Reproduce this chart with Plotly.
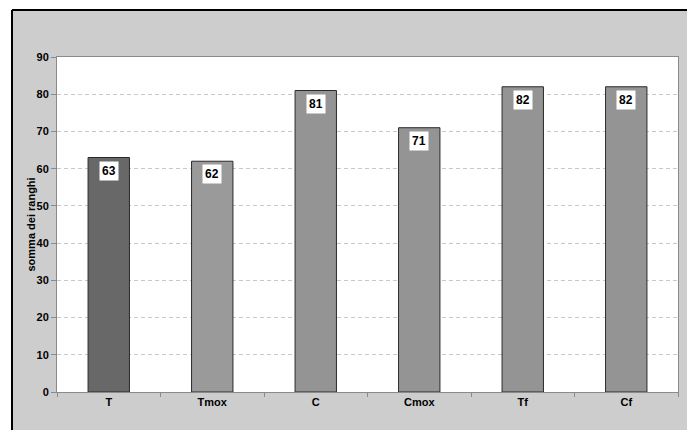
import plotly.graph_objects as go

categories = ["T", "Tmox", "C", "Cmox", "Tf", "Cf"]
values = [63, 62, 81, 71, 82, 82]
bar_colors = ["#686868", "#9a9a9a", "#949494", "#949494", "#949494", "#949494"]
y_ticks = [0, 10, 20, 30, 40, 50, 60, 70, 80, 90]

FONT = "Liberation Sans, Arial, sans-serif"

fig = go.Figure(
    go.Bar(
        x=categories,
        y=values,
        marker=dict(color=bar_colors, line=dict(color="#2a2a2a", width=1)),
        width=0.4,
        hoverinfo="skip",
    )
)

# value labels in white boxes just under the top of each bar
for cat, val in zip(categories, values):
    fig.add_annotation(
        x=cat, y=val, text=f"<b>{val}</b>", showarrow=False,
        yanchor="top", yshift=-3, bgcolor="white", borderpad=2,
        font=dict(family=FONT, size=12, color="black"),
    )

# y-axis title placed close to the tick labels
fig.add_annotation(
    xref="paper", yref="paper", x=(30 - 57) / 621, y=0.5, text="<b>somma dei ranghi</b>",
    textangle=-90, showarrow=False, xanchor="center", yanchor="middle",
    font=dict(family=FONT, size=11, color="black"),
)

# outer frame: white strip left/top, black border lines
frame_x = (12 - 57) / 621
frame_y = 1 + (57 - 10) / 335
fig.add_shape(type="rect", xref="paper", yref="paper", x0=-0.2, x1=frame_x, y0=-0.3, y1=1.3,
              fillcolor="white", line_width=0, layer="above")
fig.add_shape(type="rect", xref="paper", yref="paper", x0=-0.2, x1=1.2, y0=frame_y, y1=1.3,
              fillcolor="white", line_width=0, layer="above")
fig.add_shape(type="line", xref="paper", yref="paper", x0=frame_x, x1=frame_x, y0=-0.3, y1=frame_y,
              line=dict(color="black", width=2), layer="above")
fig.add_shape(type="line", xref="paper", yref="paper", x0=frame_x, x1=1.2, y0=frame_y, y1=frame_y,
              line=dict(color="black", width=2), layer="above")

fig.update_layout(
    width=687, height=430,
    margin=dict(l=57, r=9, t=57, b=38),
    paper_bgcolor="#cdcdcd",
    plot_bgcolor="white",
    showlegend=False,
    bargap=0.6,
    font=dict(family=FONT, size=11, color="black"),
)
fig.update_xaxes(
    showline=True, linecolor="#8a8a8a", linewidth=1, mirror=True,
    ticks="outside", ticklen=4, tickcolor="#8a8a8a", tickson="boundaries",
    tickfont=dict(family=FONT, size=11, color="black", weight="bold"),
    showgrid=False,
)
fig.update_yaxes(
    range=[0, 90], tickvals=y_ticks,
    showline=True, linecolor="#8a8a8a", linewidth=1, mirror=True,
    ticks="outside", ticklen=5, tickcolor="#8a8a8a",
    tickfont=dict(family=FONT, size=11, color="black", weight="bold"),
    showgrid=True, gridcolor="#c8c8c8", griddash="4px,3px", gridwidth=1,
    zeroline=False,
)

fig.write_html("out.html")
